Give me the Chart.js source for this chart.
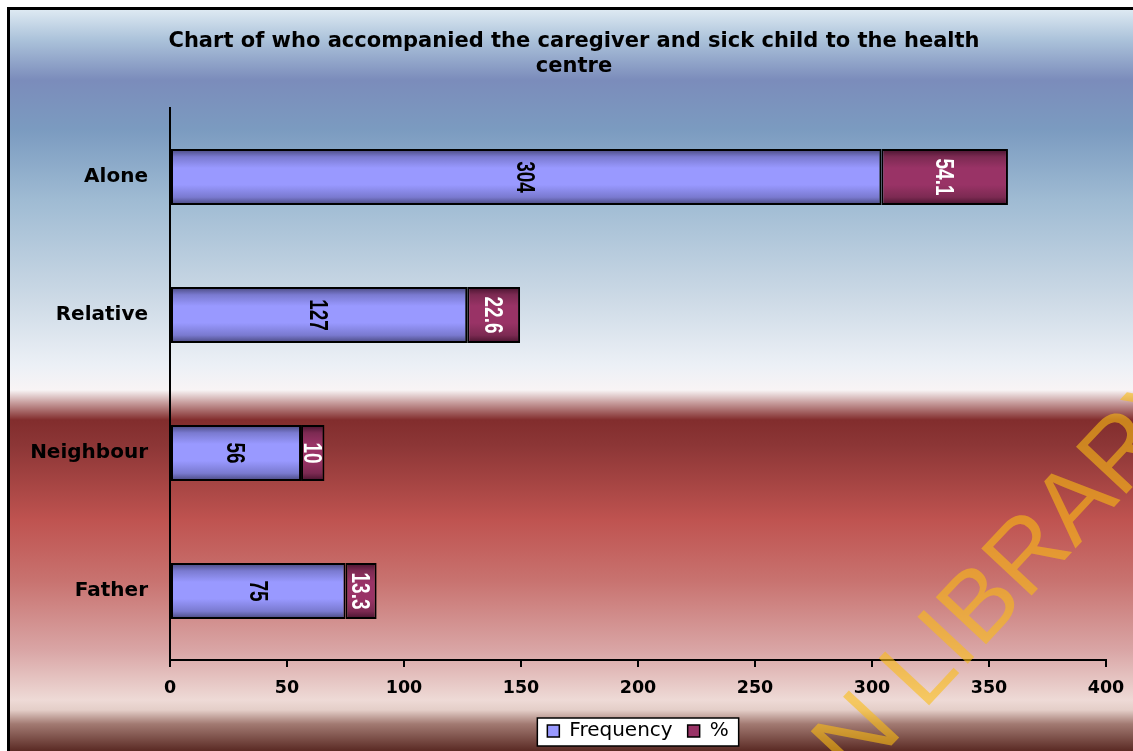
<!DOCTYPE html>
<html>
<head>
<meta charset="utf-8">
<title>Who accompanied the caregiver</title>
<script src="https://cdn.jsdelivr.net/npm/chart.js"></script>
<style>
  html, body {
    margin: 0;
    padding: 0;
    background: #ffffff;
    overflow: hidden;
  }
  #wrap {
    position: relative;
    width: 1133px;
    height: 751px;
  }
</style>
</head>
<body>
<div id="wrap"><canvas id="chart"></canvas></div>

<script>
const categories = ["Alone", "Relative", "Neighbour", "Father"];
const frequency = [304, 127, 56, 75];
const percent = [54.1, 22.6, 10, 13.3];
const seriesNames = ["Frequency", "%"];
const titleLines = ["Chart of who accompanied the caregiver and sick child to the health", "centre"];
const xTicks = { min: 0, max: 400, step: 50 };

const BAR_PCT = 0.406;

// cylinder-like shading across each bar
function barFill(base, mid, edge) {
  return function (c) {
    const chart = c.chart;
    const y = chart.scales.y;
    if (!chart.chartArea || c.dataIndex === undefined || !y) return base;
    const center = y.getPixelForValue(c.dataIndex);
    const half = (y.height / categories.length) * BAR_PCT / 2;
    const g = chart.ctx.createLinearGradient(0, center - half, 0, center + half);
    g.addColorStop(0, edge);
    g.addColorStop(0.14, mid);
    g.addColorStop(0.34, base);
    g.addColorStop(0.64, base);
    g.addColorStop(0.86, mid);
    g.addColorStop(1, edge);
    return g;
  };
}

const backdrop = {
  id: 'backdrop',
  beforeDraw(chart) {
    const ctx = chart.ctx;
    const W = chart.width, H = chart.height;
    ctx.save();
    ctx.fillStyle = '#ffffff';
    ctx.fillRect(0, 0, W, H);
    const g = ctx.createLinearGradient(0, 0, 0, H);
    const stops = [
      [10, '#dde9f2'], [40, '#abc2da'], [80, '#7b8cbb'], [130, '#7b9bc0'],
      [200, '#9fbbd3'], [300, '#cddae6'], [365, '#ecf0f6'], [390, '#f8f4f5'],
      [402, '#caa2a2'], [420, '#822d2d'], [445, '#8c3636'], [520, '#bf5350'],
      [580, '#c8726f'], [650, '#d9a5a5'], [700, '#eedad6'], [710, '#e4cec8'],
      [724, '#a27a72'], [751, '#5a2a24']
    ];
    stops.forEach(s => g.addColorStop(s[0] / H, s[1]));
    ctx.fillStyle = g;
    ctx.fillRect(10, 10, W - 10, H - 10);
    ctx.fillStyle = '#000000';
    ctx.fillRect(7, 7, 3, H - 7);
    ctx.fillRect(7, 7, W - 7, 3);

    // legend frame
    const hb = chart.legend && chart.legend.legendHitBoxes;
    if (hb && hb.length) {
      const last = hb[hb.length - 1];
      const l = hb[0].left - 10, r = last.left + last.width + 10;
      const t = hb[0].top - 3, b = hb[0].top + hb[0].height + 5;
      ctx.fillStyle = '#ffffff';
      ctx.fillRect(l, t, r - l, b - t);
      ctx.strokeStyle = '#000000';
      ctx.lineWidth = 1.5;
      ctx.strokeRect(l, t, r - l, b - t);
    }
    ctx.restore();
  }
};

const barLabels = {
  id: 'barLabels',
  afterDatasetsDraw(chart) {
    const ctx = chart.ctx;
    chart.data.datasets.forEach((ds, di) => {
      const meta = chart.getDatasetMeta(di);
      meta.data.forEach((bar, i) => {
        const cx = (bar.x + bar.base) / 2;
        const cy = bar.y;
        ctx.save();
        ctx.translate(cx, cy);
        ctx.scale(1.4, 1);
        ctx.rotate(Math.PI / 2);
        ctx.font = 'bold 19px "Liberation Sans", Arial, sans-serif';
        ctx.fillStyle = di === 0 ? '#000000' : '#ffffff';
        ctx.textAlign = 'center';
        ctx.textBaseline = 'middle';
        ctx.fillText(String(ds.data[i]), 0, 1);
        ctx.restore();
      });
    });
  }
};

const watermark = {
  id: 'watermark',
  afterDraw(chart) {
    const ctx = chart.ctx;
    ctx.save();
    ctx.font = 'normal 100px "Liberation Sans", Arial, sans-serif';
    ctx.translate(918, 668);
    ctx.rotate(-47 * Math.PI / 180);
    const pre = ctx.measureText('N ').width;
    const lw = ctx.measureText('L').width;
    ctx.fillStyle = 'rgba(250, 188, 20, 0.6)';
    ctx.textBaseline = 'middle';
    ctx.textAlign = 'left';
    ctx.fillText('N LIBRARY', -(pre + lw / 2), 6);
    ctx.restore();
  }
};

new Chart(document.getElementById('chart'), {
  type: 'bar',
  data: {
    labels: categories,
    datasets: [
      {
        label: seriesNames[0],
        data: frequency,
        backgroundColor: barFill('#9999ff', '#7a7ad0', '#46467a'),
        borderColor: '#000000',
        borderWidth: 2,
        borderSkipped: false
      },
      {
        label: seriesNames[1],
        data: percent,
        backgroundColor: barFill('#993366', '#7c2a52', '#45122c'),
        borderColor: '#000000',
        borderWidth: 2,
        borderSkipped: false
      }
    ]
  },
  options: {
    indexAxis: 'y',
    responsive: true,
    maintainAspectRatio: false,
    animation: false,
    categoryPercentage: 1,
    barPercentage: BAR_PCT,
    layout: { padding: { left: 15, right: 0, top: 0, bottom: 0 } },
    scales: {
      x: {
        stacked: true,
        min: xTicks.min,
        max: xTicks.max,
        ticks: {
          stepSize: xTicks.step,
          color: '#000000',
          padding: 11,
          font: { family: '"DejaVu Sans"', size: 17.5, weight: 'bold' }
        },
        grid: {
          display: true,
          drawOnChartArea: false,
          drawTicks: true,
          tickLength: 7,
          color: '#000000',
          lineWidth: 2
        },
        border: { display: true, color: '#000000', width: 2 },
        afterFit(scale) {
          scale.height = 46;
          scale.paddingRight = 27;
        }
      },
      y: {
        stacked: true,
        ticks: {
          color: '#000000',
          padding: 14,
          font: { family: '"DejaVu Sans"', size: 20, weight: 'bold' }
        },
        grid: { display: false },
        border: { display: true, color: '#000000', width: 2 },
        afterFit(scale) { scale.width = 155; }
      }
    },
    plugins: {
      title: {
        display: true,
        text: titleLines,
        color: '#000000',
        font: { family: '"DejaVu Sans"', size: 21, weight: 'bold', lineHeight: 25 / 21 },
        padding: { top: 29, bottom: 29 }
      },
      legend: {
        display: true,
        position: 'bottom',
        fullSize: false,
        labels: {
          color: '#000000',
          boxWidth: 12,
          boxHeight: 12,
          padding: 15,
          font: { family: '"DejaVu Sans"', size: 20 },
          generateLabels() {
            return [
              { text: seriesNames[0], fillStyle: '#9999ff', strokeStyle: '#000000', lineWidth: 1.5, datasetIndex: 0, hidden: false },
              { text: seriesNames[1], fillStyle: '#993366', strokeStyle: '#000000', lineWidth: 1.5, datasetIndex: 1, hidden: false }
            ];
          }
        }
      },
      tooltip: { enabled: false }
    }
  },
  plugins: [backdrop, barLabels, watermark]
});
</script>
</body>
</html>
